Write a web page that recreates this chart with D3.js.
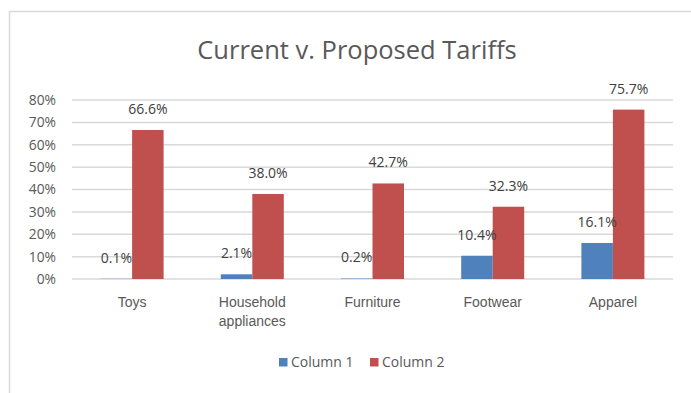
<!DOCTYPE html>
<html>
<head>
<meta charset="utf-8">
<script src="https://cdn.jsdelivr.net/npm/d3@7"></script>
<style>
  html, body { margin: 0; padding: 0; background: #fff; }
  svg { display: block; font-family: "Open Sans", sans-serif; }
</style>
</head>
<body>
<div id="chart"></div>
<script>
// data
const categories = ['Toys', 'Household appliances', 'Furniture', 'Footwear', 'Apparel'];
const seriesNames = ['Column 1', 'Column 2'];
const column1 = [0.001, 0.021, 0.002, 0.104, 0.161];
const column2 = [0.666, 0.380, 0.427, 0.323, 0.757];
const yTicks = [0, 0.1, 0.2, 0.3, 0.4, 0.5, 0.6, 0.7, 0.8];
const colors = ['#4F81BD', '#C0504D'];

const width = 691, height = 393;
const textColor = '#595959';

const svg = d3.select('#chart').append('svg')
  .attr('width', width)
  .attr('height', height);

// chart area border
svg.append('rect')
  .attr('x', 9.5).attr('y', 11.5)
  .attr('width', 720).attr('height', 420)
  .attr('fill', '#fff')
  .attr('stroke', '#D9D9D9')
  .attr('stroke-width', 1.5);

svg.append('text')
  .attr('x', 357).attr('y', 59)
  .attr('text-anchor', 'middle')
  .attr('fill', textColor)
  .style('font-size', '25.5px')
  .text('Current v. Proposed Tariffs');

const x0 = d3.scaleBand().domain(categories).range([72, 673]);
const x1 = d3.scaleBand().domain(seriesNames).range([0, x0.bandwidth()]).paddingOuter(0.908);
const y = d3.scaleLinear().domain([0, 0.8]).range([279, 100]);

// gridlines
svg.append('g').selectAll('line').data(yTicks).enter().append('line')
  .attr('x1', 72).attr('x2', 673)
  .attr('y1', d => y(d)).attr('y2', d => y(d))
  .attr('stroke', '#D9D9D9')
  .attr('stroke-width', 1.5);

// y axis labels
const yAxis = svg.append('g')
  .attr('transform', 'translate(64,0)')
  .call(d3.axisLeft(y).tickValues(yTicks).tickFormat(d3.format('.0%')).tickSize(0).tickPadding(8));
yAxis.select('.domain').remove();
yAxis.selectAll('text')
  .attr('fill', textColor)
  .style('font-family', '"Open Sans", sans-serif')
  .style('font-size', '13.8px');

const data = categories.map((c, i) => ({ cat: c, vals: [column1[i], column2[i]] }));

const groups = svg.append('g').selectAll('g').data(data).enter().append('g')
  .attr('transform', d => `translate(${x0(d.cat)},0)`);

groups.selectAll('rect').data(d => d.vals.map((v, i) => ({ v, s: seriesNames[i], i }))).enter().append('rect')
  .attr('x', d => x1(d.s))
  .attr('width', x1.bandwidth())
  .attr('y', d => y(d.v))
  .attr('height', d => y(0) - y(d.v))
  .attr('fill', d => colors[d.i]);

groups.selectAll('text.lbl').data(d => d.vals.map((v, i) => ({ v, s: seriesNames[i], i }))).enter().append('text')
  .attr('class', 'lbl')
  .attr('x', d => x1(d.s) + x1.bandwidth() / 2)
  .attr('y', d => y(d.v) - 21)
  .attr('dy', '0.35em')
  .attr('text-anchor', 'middle')
  .attr('fill', '#404040')
  .style('font-size', '14px')
  .text(d => d3.format('.1%')(d.v));

// category labels
const xAxis = svg.append('g')
  .attr('transform', 'translate(0,279)')
  .call(d3.axisBottom(x0).tickSize(0).tickFormat(''));
xAxis.select('.domain').remove();
xAxis.selectAll('.tick').each(function(d) {
  const words = d.split(' ');
  const t = d3.select(this).append('text')
    .attr('text-anchor', 'middle')
    .attr('fill', textColor)
    .style('font-size', '14px');
  words.forEach((w, k) => {
    t.append('tspan').attr('x', 0).attr('y', 23 + k * 19).attr('dy', '0.35em').text(w);
  });
});

// legend
const legend = svg.append('g').attr('transform', 'translate(279,358)');
const legendX = [0, 91];
seriesNames.forEach((s, i) => {
  legend.append('rect')
    .attr('x', legendX[i]).attr('y', 0)
    .attr('width', 8.5).attr('height', 8.5)
    .attr('fill', colors[i]);
  legend.append('text')
    .attr('x', legendX[i] + 12).attr('y', 4.5)
    .attr('dy', '0.35em')
    .attr('fill', textColor)
    .style('font-size', '14px')
    .text(s);
});
</script>
</body>
</html>
